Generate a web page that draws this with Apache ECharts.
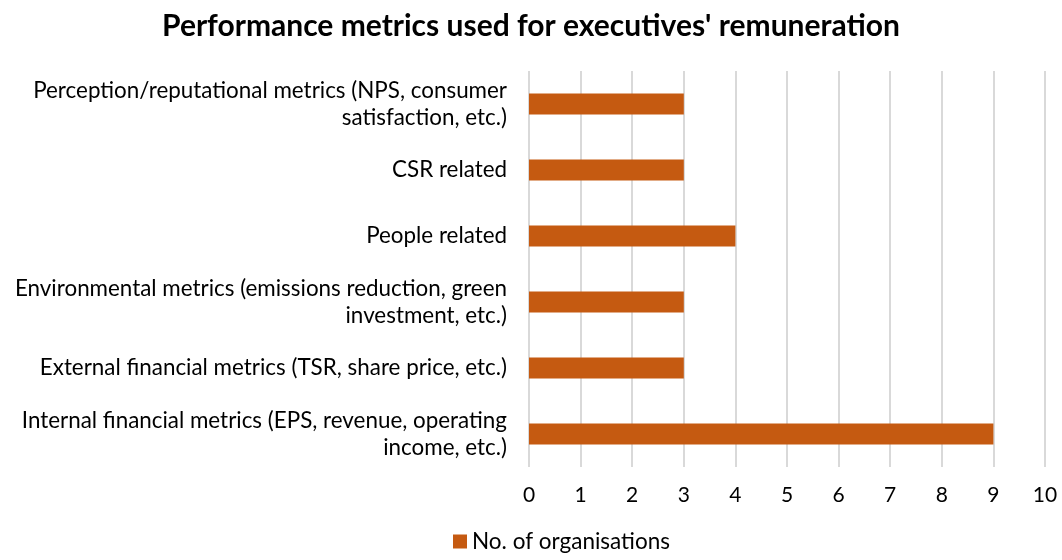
<!DOCTYPE html>
<html>
<head>
<meta charset="utf-8">
<script src="https://cdn.jsdelivr.net/npm/echarts@6/dist/echarts.min.js"></script>
<style>
  html, body { margin: 0; padding: 0; background: #fff; }
  #chart { width: 1062px; height: 560px; }
</style>
</head>
<body>
<div id="chart"></div>
<script>
// categories top to bottom, as shown in the picture
const categories = [
  'Perception/reputational metrics (NPS, consumer\nsatisfaction, etc.)',
  'CSR related',
  'People related',
  'Environmental metrics (emissions reduction, green\ninvestment, etc.)',
  'External financial metrics (TSR, share price, etc.)',
  'Internal financial metrics (EPS, revenue, operating\nincome, etc.)',
]
const organisations = [3, 3, 4, 3, 3, 9]
const seriesName = 'No. of organisations'

const chart = echarts.init(document.getElementById('chart'))
const font = 'Lato, "Open Sans", sans-serif'

chart.setOption({
  animation: false,
  textStyle: { fontFamily: font },
  title: {
    text: "Performance metrics used for executives' remuneration",
    left: 'center', top: 6,
    textStyle: { fontSize: 30, fontWeight: 'bold', color: '#000', fontFamily: font },
  },
  // legend sits a bit right of centre in the original
  legend: {
    bottom: 2, left: 448,
    itemWidth: 14, itemHeight: 14, itemGap: 5,
    icon: 'rect',
    textStyle: { fontSize: 22.5, color: '#000' },
    data: [seriesName],
  },
  grid: { left: 529, right: 17, top: 71, bottom: 93, containLabel: false },
  xAxis: {
    type: 'value',
    min: 0, max: 10, interval: 1,
    axisLine: { show: false },
    axisTick: { show: false },
    axisLabel: { fontSize: 21, color: '#000', margin: 18 },
    splitLine: { lineStyle: { color: '#d9d9d9', width: 2 } },
  },
  yAxis: {
    type: 'category',
    inverse: true,
    data: categories,
    axisLine: { show: false },
    axisTick: { show: false },
    axisLabel: { fontSize: 22.4, color: '#000', margin: 22, align: 'right', lineHeight: 27 },
  },
  series: [
    {
      name: seriesName,
      type: 'bar',
      data: organisations,
      barWidth: 21,
      itemStyle: { color: '#c55a11' },
    },
  ],
})
</script>
</body>
</html>
